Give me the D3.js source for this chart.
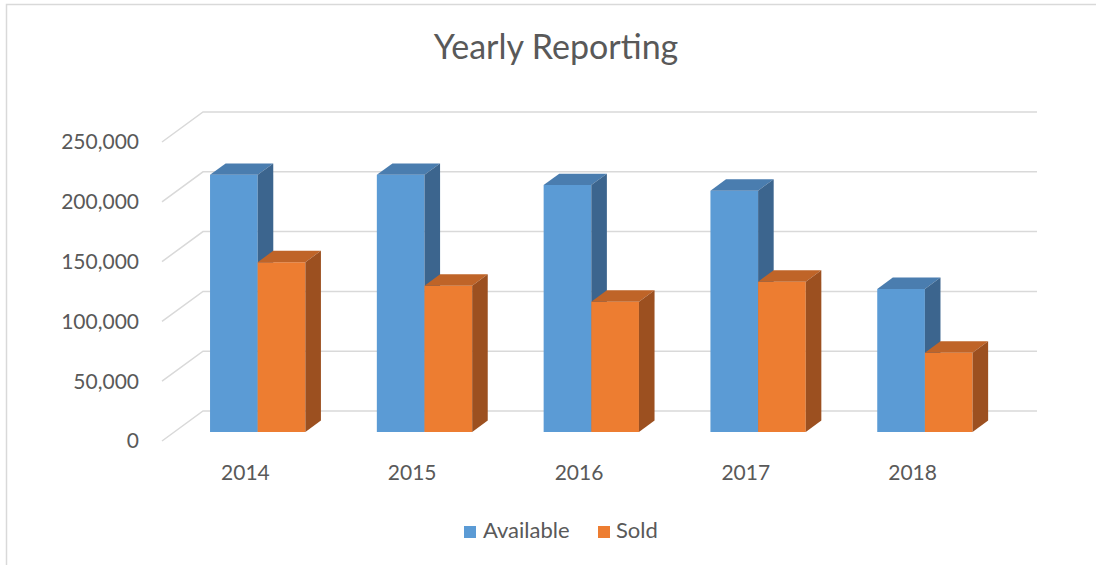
<!DOCTYPE html>
<html>
<head>
<meta charset="utf-8">
<script src="https://cdn.jsdelivr.net/npm/d3@7"></script>
<style>
  html, body { margin: 0; padding: 0; background: #fff; }
  svg { display: block; font-family: Lato, "Open Sans", sans-serif; }
</style>
</head>
<body>
<svg id="chart" width="1096" height="565"></svg>
<script>
// Yearly stock figures
const years = ["2014", "2015", "2016", "2017", "2018"];
const seriesNames = ["Available", "Sold"];
const available = [215000, 215000, 206500, 201800, 119600];
const sold = [142000, 122300, 109000, 125700, 66300];
const yTicks = [0, 50000, 100000, 150000, 200000, 250000];

const colors = {
  Available: { front: "#5B9BD5", top: "#4A7DAF", side: "#3C658E" },
  Sold:      { front: "#ED7D31", top: "#BF6428", side: "#9C5020" }
};

const svg = d3.select("#chart");

// Chart frame
svg.append("rect")
  .attr("x", 6.5).attr("y", 4.5)
  .attr("width", 1200).attr("height", 700)
  .attr("fill", "none").attr("stroke", "#d9d9d9").attr("stroke-width", 1.5);

// Oblique 3D layout: front plane plus a depth offset toward the back wall
const front = { left: 162, right: 996, bottom: 441, top: 142 };
const DEPTH = { dx: 41, dy: -30 };
const barDepth = [0.30, 0.68];   // bars sit inside the floor depth

const x = d3.scaleBand().domain(years).range([front.left, front.right]).padding(0);
const barW = x.bandwidth() / 3.5;   // gap width 150%
const xs = d3.scaleBand().domain(seriesNames)
  .range([barW * 0.75, barW * 2.75]).padding(0);
const y = d3.scaleLinear().domain([0, 250000]).range([front.bottom, front.top]);

const proj = (px, v, d) => [px + d * DEPTH.dx, y(v) + d * DEPTH.dy];

// Gridlines on back wall and side wall
const grid = svg.append("g").attr("stroke", "#d9d9d9").attr("stroke-width", 1.5).attr("fill", "none");
yTicks.forEach(t => {
  const a = proj(front.left, t, 0), b = proj(front.left, t, 1), c = proj(front.right, t, 1);
  grid.append("path").attr("d", d3.line()([a, b, c]));
});

// Y axis labels
const fmt = d3.format(",");
svg.append("g").selectAll("text").data(yTicks).join("text")
  .attr("x", 139).attr("y", d => y(d))
  .attr("dy", "0.35em")
  .attr("text-anchor", "end")
  .attr("fill", "#595959")
  .attr("font-size", 21)
  .text(d => fmt(d));

// Category labels
svg.append("g").selectAll("text").data(years).join("text")
  .attr("x", d => x(d) + x.bandwidth() / 2)
  .attr("y", 480)
  .attr("text-anchor", "middle")
  .attr("fill", "#595959")
  .attr("font-size", 21)
  .text(d => d);

// 3D columns
const values = { Available: available, Sold: sold };
const bars = svg.append("g");
years.forEach((yr, i) => {
  seriesNames.forEach(s => {
    const v = values[s][i];
    const x0 = x(yr) + xs(s), x1 = x0 + xs.bandwidth();
    const [d0, d1] = barDepth;
    const P = (px, val, d) => proj(px, val, d);
    const frontFace = [P(x0, 0, d0), P(x1, 0, d0), P(x1, v, d0), P(x0, v, d0)];
    const topFace = [P(x0, v, d0), P(x1, v, d0), P(x1, v, d1), P(x0, v, d1)];
    const sideFace = [P(x1, 0, d0), P(x1, 0, d1), P(x1, v, d1), P(x1, v, d0)];
    const g = bars.append("g");
    const poly = pts => "M" + pts.map(p => p.join(",")).join("L") + "Z";
    g.append("path").attr("d", poly(frontFace)).attr("fill", colors[s].front);
    g.append("path").attr("d", poly(topFace)).attr("fill", colors[s].top);
    g.append("path").attr("d", poly(sideFace)).attr("fill", colors[s].side);
  });
});

// Title
svg.append("text")
  .attr("x", 556).attr("y", 59)
  .attr("text-anchor", "middle")
  .attr("fill", "#595959")
  .attr("font-size", 34)
  .text("Yearly Reporting");

// Legend
const legend = svg.append("g");
const legendItems = [
  { name: "Available", sx: 464, tx: 483 },
  { name: "Sold", sx: 598, tx: 616 }
];
legend.selectAll("rect").data(legendItems).join("rect")
  .attr("x", d => d.sx).attr("y", 526)
  .attr("width", 12).attr("height", 12)
  .attr("fill", d => colors[d.name].front);
legend.selectAll("text").data(legendItems).join("text")
  .attr("x", d => d.tx).attr("y", 538)
  .attr("fill", "#595959")
  .attr("font-size", 22)
  .text(d => d.name);
</script>
</body>
</html>
